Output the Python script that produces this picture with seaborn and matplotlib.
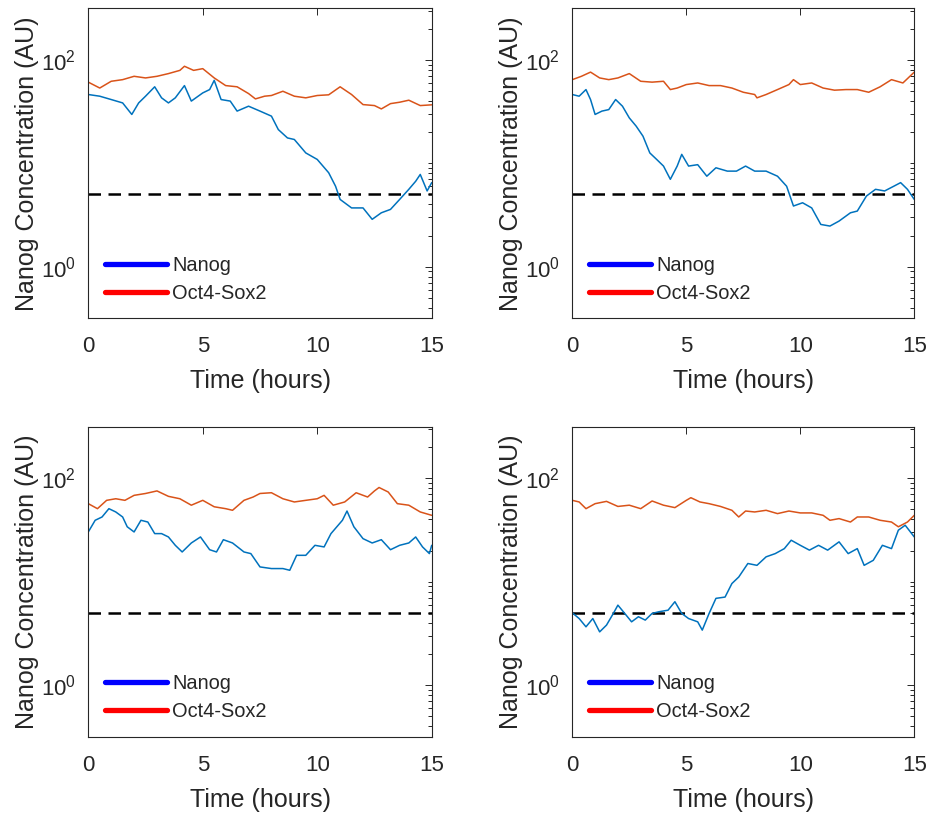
import matplotlib
matplotlib.use("Agg")
import matplotlib.pyplot as plt
import seaborn as sns
import pandas as pd
import numpy as np
from matplotlib.lines import Line2D
from matplotlib.ticker import FixedLocator, NullFormatter, LogFormatterMathtext

# ---------------- data ----------------
# Panel 1 (top-left)
p1_nanog_t = [0, 0.5, 1, 1.5, 1.9, 2.2, 2.5, 2.9, 3.2, 3.5, 3.8, 4.2, 4.5, 5.0, 5.3, 5.5, 5.8, 6.2, 6.5, 7,
              7.5, 8, 8.3, 8.7, 9, 9.5, 10, 10.5, 10.8, 11, 11.5, 12, 12.4, 12.8, 13.2, 13.6, 14, 14.3, 14.5, 14.8, 15]
p1_nanog_v = [46.3, 44.6, 41.4, 38.4, 29.7, 38.4, 44.6, 55, 43, 38.4, 43, 56.5, 40, 48, 51.7, 63.5, 41.4, 40, 32, 35.7,
              32, 28.6, 21.2, 17.6, 17, 12.6, 10.9, 8.1, 6.0, 4.47, 3.7, 3.7, 2.87, 3.32, 3.58, 4.47, 5.6, 6.7, 7.8, 5.4, 6.5]
p1_oct_t = [0, 0.5, 1, 1.5, 2, 2.5, 3, 3.5, 4, 4.2, 4.6, 5.0, 5.5, 6, 6.5, 7, 7.3, 7.7, 8, 8.5, 9, 9.5, 10, 10.5,
            11, 11.5, 12, 12.5, 12.8, 13.2, 13.6, 14, 14.5, 15]
p1_oct_v = [61.0, 53.5, 62.2, 64.5, 69.5, 67, 69.5, 73.8, 79.3, 86.9, 79.3, 82.4, 67, 56.5, 55, 47.3, 42, 44.6, 45.3,
            49.8, 44.6, 43, 45.3, 46, 55, 46.3, 37, 36.2, 33.6, 37.8, 39, 40.8, 36.2, 36.8]

# Panel 2 (top-right)
p2_nanog_t = [0, 0.3, 0.6, 0.8, 1, 1.3, 1.6, 1.9, 2.2, 2.5, 2.8, 3.1, 3.4, 3.7, 4, 4.3, 4.6, 4.8, 5.1, 5.5, 5.9, 6.3,
              6.8, 7.2, 7.6, 8.0, 8.5, 9.0, 9.4, 9.7, 10.1, 10.5, 10.9, 11.3, 11.7, 12.2, 12.5, 12.9, 13.3, 13.7,
              14.1, 14.4, 14.7, 15]
p2_nanog_v = [46.3, 44.6, 51.7, 41.4, 29.7, 32, 33.1, 41.4, 35.7, 27.5, 22.9, 18.3, 12.6, 10.9, 9.4, 7.0, 9.4, 12.2,
              9.4, 9.7, 7.5, 9.05, 8.4, 8.4, 9.4, 8.4, 8.4, 7.5, 6.0, 3.86, 4.15, 3.7, 2.56, 2.47, 2.76, 3.32, 3.45,
              4.82, 5.6, 5.4, 6.0, 6.5, 5.6, 4.47]
p2_oct_t = [0, 0.4, 0.8, 1.2, 1.6, 2, 2.5, 3, 3.5, 4, 4.3, 4.6, 5, 5.5, 6, 6.5, 7, 7.5, 8, 8.1, 8.5, 9, 9.5, 9.7,
            10, 10.5, 11, 11.5, 12, 12.5, 13, 13.5, 14, 14.5, 15]
p2_oct_v = [64.5, 69.5, 76.3, 67, 64.5, 67, 73.8, 62.2, 61, 62.2, 51.7, 53.5, 57.8, 59.9, 56.5, 56.5, 53.5, 48.7,
            46.3, 43, 46.3, 51.7, 57.8, 64.5, 57.8, 59.9, 53.5, 51, 51.7, 51.7, 48.7, 55, 64.5, 59.9, 76.3]

# Panel 3 (bottom-left)
p3_nanog_t = [0, 0.3, 0.6, 0.9, 1.2, 1.5, 1.7, 2, 2.3, 2.6, 2.9, 3.2, 3.5, 3.8, 4.1, 4.5, 4.9, 5.3, 5.6, 5.9, 6.3,
              6.8, 7.1, 7.5, 8, 8.5, 8.8, 9.1, 9.5, 9.9, 10.3, 10.6, 11.1, 11.3, 11.6, 12, 12.4, 12.8, 13.2, 13.6,
              14, 14.3, 14.6, 14.9, 15]
p3_nanog_v = [30.3, 39.3, 42.3, 50.9, 47.3, 42.3, 34, 30.3, 39.3, 37.8, 29.2, 29.2, 27.1, 22.5, 19.4, 23.7, 27.1,
              20.4, 19.4, 25.5, 23.7, 19.4, 18.7, 13.9, 13.4, 13.4, 12.9, 18.0, 18.0, 22.5, 21.7, 29.2, 39.3, 48.3,
              34, 26.1, 23.7, 25.5, 20.4, 22.5, 23.7, 27.1, 21.7, 18.7, 22.5]
p3_oct_t = [0, 0.4, 0.8, 1.2, 1.6, 2, 2.5, 3, 3.5, 4, 4.5, 5, 5.5, 6, 6.3, 6.8, 7.2, 7.5, 8, 8.5, 9, 9.5, 10, 10.3,
            10.7, 11.2, 11.7, 12.2, 12.5, 12.7, 13.1, 13.5, 14, 14.5, 15]
p3_oct_v = [56.9, 50.9, 61.3, 63.5, 61.3, 68.5, 71.4, 75.6, 67, 63.5, 55, 61.3, 53.1, 50.9, 49.1, 61.3, 66, 71.4,
            72.6, 63.5, 59.1, 61.3, 63.5, 68.5, 55, 59.1, 72.6, 66, 75.6, 81.6, 73.8, 56.9, 55, 47.3, 43.9]

# Panel 4 (bottom-right)
p4_nanog_t = [0, 0.3, 0.6, 0.9, 1.2, 1.5, 1.8, 2.0, 2.3, 2.6, 2.9, 3.2, 3.5, 3.8, 4.2, 4.5, 4.8, 5.1, 5.5, 5.7, 6.0,
              6.3, 6.7, 7.0, 7.3, 7.7, 8.1, 8.5, 8.9, 9.3, 9.6, 10, 10.4, 10.8, 11.2, 11.7, 12.1, 12.5, 12.8, 13.2,
              13.6, 14, 14.3, 14.6, 15]
p4_nanog_v = [5.0, 4.4, 3.66, 4.4, 3.27, 3.8, 4.93, 5.93, 4.93, 4.09, 4.58, 4.25, 4.93, 5.12, 5.3, 6.4, 4.93, 4.4,
              4.09, 3.4, 4.93, 6.9, 7.1, 9.6, 11.1, 15.0, 14.4, 17.4, 18.7, 20.9, 25.2, 22.5, 20.2, 22.5, 20.2, 24.3,
              18.7, 20.9, 14.4, 16.1, 22.5, 20.9, 31.5, 35.2, 27.1]
p4_oct_t = [0, 0.3, 0.6, 1, 1.5, 2, 2.5, 3, 3.5, 4, 4.5, 5, 5.2, 5.6, 6, 6.5, 7, 7.3, 7.6, 8, 8.5, 9, 9.5, 10, 10.5,
            11, 11.3, 11.7, 12.2, 12.5, 13, 13.5, 14, 14.3, 14.7, 15]
p4_oct_v = [61.3, 59.1, 50.9, 56.9, 59.9, 53.5, 55, 50.9, 60.4, 55, 52.1, 61.3, 65, 59.1, 56.9, 53.5, 49.1, 42.3,
            48.3, 47.3, 49.1, 45.6, 48.3, 46.3, 46.3, 43.9, 39.3, 40.8, 37.8, 42.3, 42.3, 39.3, 37.8, 34, 37.8, 43.9]

threshold = 5.0
series_names = ["Nanog", "Oct4-Sox2"]
x_ticks = [0, 5, 10, 15]
x_label = "Time (hours)"
y_label = "Nanog Concentration (AU)"

panels = [
    (p1_nanog_t, p1_nanog_v, p1_oct_t, p1_oct_v),
    (p2_nanog_t, p2_nanog_v, p2_oct_t, p2_oct_v),
    (p3_nanog_t, p3_nanog_v, p3_oct_t, p3_oct_v),
    (p4_nanog_t, p4_nanog_v, p4_oct_t, p4_oct_v),
]

rows = []
for i, (nt, nv, ot, ov) in enumerate(panels):
    for t, v in zip(nt, nv):
        rows.append((i, series_names[0], t, v))
    for t, v in zip(ot, ov):
        rows.append((i, series_names[1], t, v))
df = pd.DataFrame(rows, columns=["panel", "series", "t", "value"])

# ---------------- style ----------------
sns.set_style("white")
plt.rcParams["font.family"] = ["Liberation Sans", "DejaVu Sans"]
plt.rcParams["mathtext.fontset"] = "custom"
plt.rcParams["mathtext.rm"] = "Liberation Sans"
plt.rcParams["mathtext.it"] = "Liberation Sans"
plt.rcParams["mathtext.bf"] = "Liberation Sans"
plt.rcParams["mathtext.default"] = "regular"

line_colors = {"Nanog": "#0072BD", "Oct4-Sox2": "#D95319"}
legend_colors = {"Nanog": "#0000FF", "Oct4-Sox2": "#FF0000"}
axc = "#262626"

fig = plt.figure(figsize=(9.29, 8.14), dpi=100)
W, H = 929, 814
boxes_px = [(88.3, 8.3, 431.7, 318.3), (572.3, 8.3, 914.3, 318.3),
            (88.3, 426.7, 431.7, 736.7), (572.3, 426.7, 914.3, 736.7)]

minor = []
for d in [-1, 0, 1, 2]:
    for k in range(1, 10):
        val = k * 10.0 ** d
        if val not in (1.0, 100.0):
            minor.append(val)

for i, (l, t, r, b) in enumerate(boxes_px):
    ax = fig.add_axes([l / W, (H - b) / H, (r - l) / W, (b - t) / H])
    sub = df[df.panel == i]
    sns.lineplot(data=sub, x="t", y="value", hue="series", palette=line_colors,
                 estimator=None, sort=False, legend=False, linewidth=1.1, ax=ax)
    ax.axhline(threshold, color="black", linewidth=1.8, dashes=(5.0, 3.0), zorder=1)
    ax.set_yscale("log")
    ax.set_xlim(0, 15)
    ax.set_ylim(10 ** -0.5, 10 ** 2.5)
    ax.set_xticks(x_ticks)
    ax.yaxis.set_major_locator(FixedLocator([1, 100]))
    ax.yaxis.set_major_formatter(LogFormatterMathtext())
    ax.yaxis.set_minor_locator(FixedLocator(minor))
    ax.yaxis.set_minor_formatter(NullFormatter())
    ax.tick_params(axis="both", which="both", direction="in", top=True, right=True,
                   colors=axc, labelcolor=axc, labelsize=16, width=0.7)
    ax.tick_params(axis="both", which="major", length=5)
    ax.tick_params(axis="x", which="major", pad=13)
    ax.tick_params(axis="y", which="major", pad=9)
    ax.tick_params(axis="y", which="minor", length=3)
    for s in ax.spines.values():
        s.set_color(axc)
        s.set_linewidth(0.8)
    ax.set_xlabel(x_label, fontsize=18, color=axc, labelpad=8.5)
    ax.set_ylabel(y_label, fontsize=18, color=axc, labelpad=1)
    handles = [Line2D([0], [0], color=legend_colors[n], linewidth=3.8) for n in series_names]
    ax.legend(handles, series_names, loc="lower left", frameon=False, fontsize=14.4,
              handlelength=3.1, handletextpad=0.25, labelspacing=0.45,
              borderaxespad=0.3, bbox_to_anchor=(0.008, 0.005))

fig.savefig("out.png", dpi=100)
